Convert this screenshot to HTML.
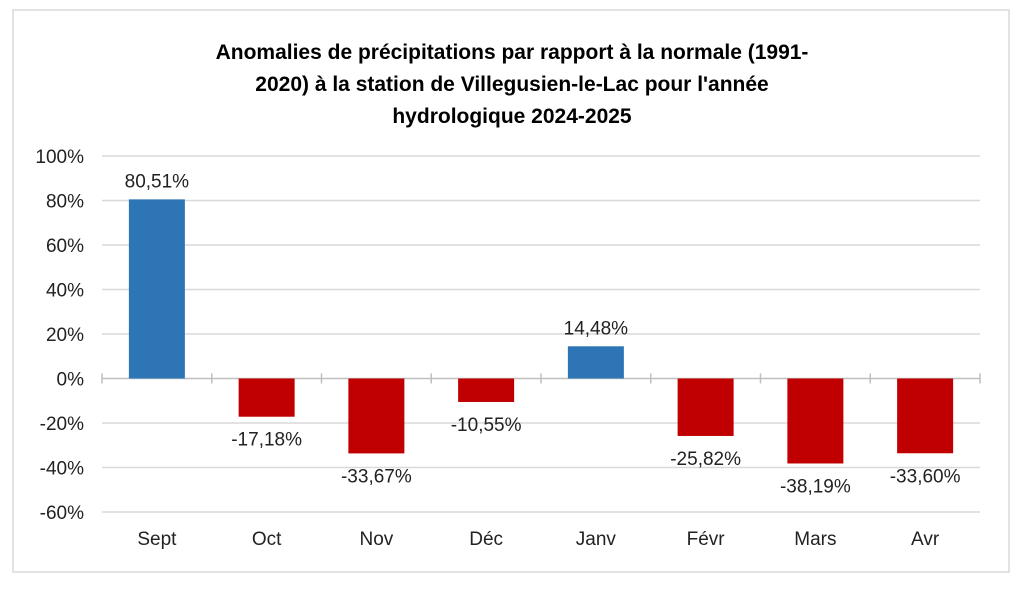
<!DOCTYPE html>
<html><head><meta charset="utf-8"><style>
body{margin:0;background:#fff;width:1024px;height:587px;overflow:hidden;font-family:"Liberation Sans",sans-serif}
</style></head><body>
<svg width="1024" height="587" id="c">
<rect x="13" y="10" width="996" height="562" fill="#fff" stroke="#d9d9d9" stroke-width="1.5"/>
<g font-weight="bold" font-size="21" text-anchor="middle" fill="#000">
<text x="512" y="59">Anomalies de précipitations par rapport à la normale (1991-</text>
<text x="512" y="91">2020) à la station de Villegusien-le-Lac pour l'année</text>
<text x="512" y="123">hydrologique 2024-2025</text>
</g>
<g id="grid"></g><g id="bars"></g><g id="labels"></g>
</svg>
<script>
const categories=["Sept","Oct","Nov","Déc","Janv","Févr","Mars","Avr"];
const values=[80.51,-17.18,-33.67,-10.55,14.48,-25.82,-38.19,-33.60];
const valueLabels=["80,51%","-17,18%","-33,67%","-10,55%","14,48%","-25,82%","-38,19%","-33,60%"];
const ticks=[100,80,60,40,20,0,-20,-40,-60];
const NS="http://www.w3.org/2000/svg";
const L=102,R=980,y0=378.5,pp=44.5/20;
const y=v=>y0-v*pp;
const step=(R-L)/categories.length;
const cx=i=>L+step*(i+0.5);
function mk(t,a,p){const e=document.createElementNS(NS,t);for(const k in a)e.setAttribute(k,a[k]);p.appendChild(e);return e;}
const g=document.getElementById('grid'),b=document.getElementById('bars'),lb=document.getElementById('labels');
ticks.forEach(t=>{
 if(t!==0){const l=mk('line',{x1:L,x2:R,y1:y(t),y2:y(t),stroke:'#d9d9d9','stroke-width':1.5},g);
 
 }
 const tx=mk('text',{x:84,y:y(t)+7,'text-anchor':'end','font-size':19,fill:'#222'},g);tx.textContent=t+'%';
 
 
});
const ax=mk('line',{x1:L,x2:R,y1:y0,y2:y0,stroke:'#bfbfbf','stroke-width':1.5},g);


for(let i=0;i<=categories.length;i++){const t=mk('line',{x1:L+step*i,x2:L+step*i,y1:y0-5,y2:y0+5,stroke:'#bfbfbf','stroke-width':1.5},g);
 
 }
const bw=56;
values.forEach((v,i)=>{
 const top=Math.min(y(v),y0),h=Math.abs(y(v)-y0);
 const r=mk('rect',{x:cx(i)-bw/2,y:top,width:bw,height:h,fill:v>=0?'#2e75b6':'#c00000'},b);
 
 
 const ly=v>=0?y(v)-12:y(v)+29;
 const t=mk('text',{x:cx(i),y:ly,'text-anchor':'middle','font-size':19,fill:'#222'},lb);t.textContent=valueLabels[i];
 
 
 const c=mk('text',{x:cx(i),y:545,'text-anchor':'middle','font-size':19,fill:'#222'},lb);c.textContent=categories[i];
 
 
});
</script>
</body></html>
